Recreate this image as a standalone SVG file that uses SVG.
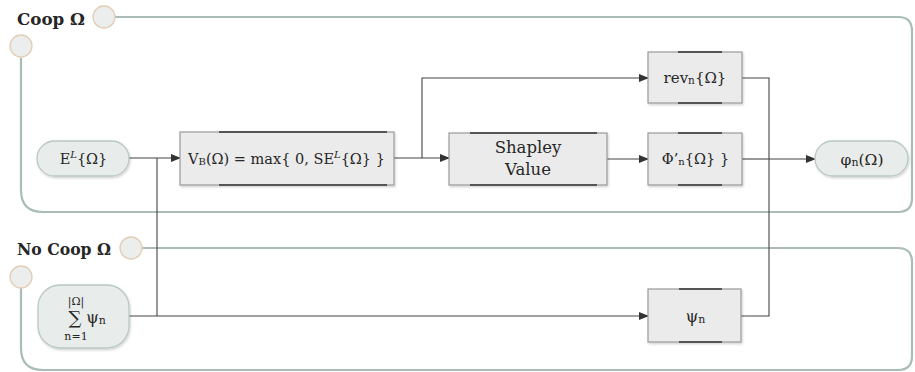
<svg xmlns="http://www.w3.org/2000/svg" width="915" height="372" viewBox="0 0 915 372">
<style>
.panel{fill:none;stroke:#a9bcb5;stroke-width:2.2}
.knob{fill:#eceeed;stroke:#e3cdb6;stroke-width:1.3}
.box{fill:#ebebeb;stroke:#9a9a9a;stroke-width:1.2}
.bar{stroke:#555;stroke-width:2}
.pill{fill:#e8ecea;stroke:#b9c8c1;stroke-width:1.3}
.t{font-family:"DejaVu Serif","Liberation Serif",serif;fill:#262626;text-anchor:middle}
.lbl{font-family:"DejaVu Serif","Liberation Serif",serif;fill:#262626;font-weight:bold}
.c{fill:none;stroke:#444;stroke-width:1.1}
</style>
<defs>
<marker id="ah" markerWidth="10" markerHeight="8" refX="9" refY="4" orient="auto" markerUnits="userSpaceOnUse">
<path d="M0,0 L10,4 L0,8 Z" fill="#333"/>
</marker>
<filter id="sh" x="-10%" y="-10%" width="130%" height="140%">
<feDropShadow dx="1" dy="1.5" stdDeviation="1.2" flood-color="#000" flood-opacity="0.18"/>
</filter>
</defs>

<g id="panel-coop">
<path class="panel" d="M114,17 L898,17 Q912,17 912,31 L912,198 Q912,212 898,212 L43,212 Q21,212 21,190 L21,58"/>
<circle class="knob" cx="104" cy="17" r="11"/>
<circle class="knob" cx="21" cy="46" r="11"/>
<text class="lbl" x="17" y="25" font-size="17" textLength="68" lengthAdjust="spacingAndGlyphs">Coop Ω</text>
</g>

<g id="panel-nocoop">
<path class="panel" d="M142,248 L898,248 Q912,248 912,262 L912,356 Q912,370 898,370 L43,370 Q21,370 21,348 L21,288"/>
<circle class="knob" cx="131" cy="248" r="11"/>
<circle class="knob" cx="21" cy="277" r="11"/>
<text class="lbl" x="17" y="255" font-size="17" textLength="94" lengthAdjust="spacingAndGlyphs">No Coop Ω</text>
</g>

<g id="connectors">
<path class="c" d="M129,158 L180,158" marker-end="url(#ah)"/>
<path class="c" d="M157,158 L157,316"/>
<path class="c" d="M129,316 L648,316" marker-end="url(#ah)"/>
<path class="c" d="M394,158 L449,158" marker-end="url(#ah)"/>
<path class="c" d="M422,158 L422,78 L648,78" marker-end="url(#ah)"/>
<path class="c" d="M607,159 L648,159" marker-end="url(#ah)"/>
<path class="c" d="M742,78 L769,78 L769,316 L741,316"/>
<path class="c" d="M742,159 L769,159"/>
<path class="c" d="M769,159 L815,159" stroke-width="2" marker-end="url(#ah)"/>
</g>

<g id="node-EL">
<rect class="pill" x="37" y="141" width="92" height="35" rx="17.5" filter="url(#sh)"/>
<text class="t" x="83.5" y="164" font-size="14.5">E<tspan font-size="10" font-style="italic" dy="-6">L</tspan><tspan dy="6">{Ω}</tspan></text>
</g>

<g id="node-VB">
<rect class="box" x="180" y="132" width="214" height="53" filter="url(#sh)"/>
<line class="bar" x1="219" y1="132" x2="387" y2="132"/>
<line class="bar" x1="219" y1="185" x2="387" y2="185"/>
<text class="t" x="286.5" y="164" font-size="14.5">V<tspan font-size="10" dy="1">B</tspan><tspan dy="-1">(Ω) = max{ 0, SE</tspan><tspan font-size="10" font-style="italic" dy="-6">L</tspan><tspan dy="6">{Ω} }</tspan></text>
</g>

<g id="node-shapley">
<rect class="box" x="449" y="133" width="158" height="52" filter="url(#sh)"/>
<line class="bar" x1="470" y1="133" x2="597" y2="133"/>
<line class="bar" x1="470" y1="185" x2="597" y2="185"/>
<text class="t" x="528" y="153" font-size="16.5">Shapley</text>
<text class="t" x="528" y="175" font-size="16.5">Value</text>
</g>

<g id="node-rev">
<rect class="box" x="648" y="52" width="94" height="51" filter="url(#sh)"/>
<line class="bar" x1="678" y1="52" x2="722" y2="52"/>
<line class="bar" x1="678" y1="103" x2="722" y2="103"/>
<text class="t" x="695" y="83" font-size="15">rev<tspan font-size="10.5" dy="1">n</tspan><tspan dy="-1">{Ω}</tspan></text>
</g>

<g id="node-phi">
<rect class="box" x="648" y="133" width="94" height="52" filter="url(#sh)"/>
<line class="bar" x1="678" y1="133" x2="722" y2="133"/>
<line class="bar" x1="678" y1="185" x2="722" y2="185"/>
<text class="t" x="695.5" y="164" font-size="14.5">Φ’<tspan font-size="10" dy="1">n</tspan><tspan dy="-1">{Ω} }</tspan></text>
</g>

<g id="node-varphi">
<rect class="pill" x="815" y="141" width="93" height="35" rx="17.5" filter="url(#sh)"/>
<text class="t" x="862" y="165" font-size="15.5">φ<tspan font-size="11" dy="1">n</tspan><tspan dy="-1">(Ω)</tspan></text>
</g>

<g id="node-sum">
<rect class="pill" x="38" y="285" width="91" height="63" rx="22" filter="url(#sh)"/>
<text class="t" x="76" y="305" font-size="11">|Ω|</text>
<text class="t" x="75" y="324" font-size="18">∑</text>
<text class="t" x="76" y="340" font-size="11">n=1</text>
<text class="t" x="96" y="323" font-size="16">ψ<tspan font-size="11" dy="1">n</tspan></text>
</g>

<g id="node-psi">
<rect class="box" x="648" y="289" width="93" height="53" filter="url(#sh)"/>
<line class="bar" x1="679" y1="289" x2="722" y2="289"/>
<line class="bar" x1="679" y1="342" x2="722" y2="342"/>
<text class="t" x="695.5" y="322" font-size="16">ψ<tspan font-size="11" dy="1">n</tspan></text>
</g>
</svg>
